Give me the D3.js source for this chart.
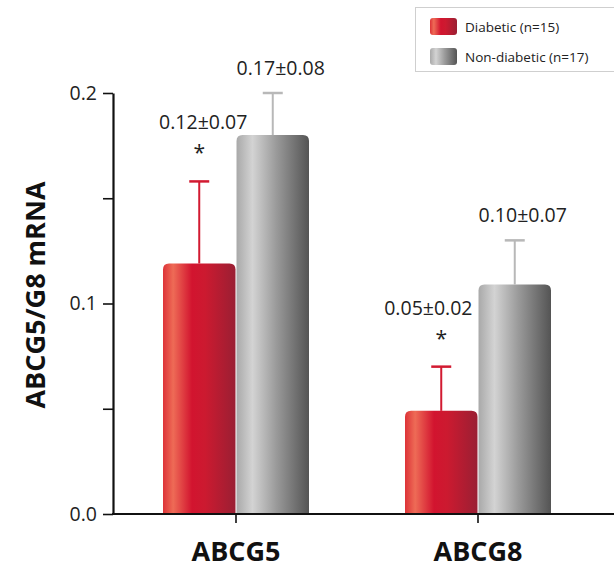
<!DOCTYPE html>
<html>
<head>
<meta charset="utf-8">
<script src="https://cdn.jsdelivr.net/npm/d3@7"></script>
<style>
  body { margin: 0; background: #fff; }
  text { font-family: "Open Sans", "Noto Sans", sans-serif; }
</style>
</head>
<body>
<script>
// data
var genes = ["ABCG5", "ABCG8"];
var groups = ["Diabetic", "Non-diabetic"];
var legendLabels = ["Diabetic (n=15)", "Non-diabetic (n=17)"];
var means = [[0.119, 0.180], [0.049, 0.109]];   // [gene][group]
var sds = [[0.039, 0.020], [0.021, 0.021]];     // drawn error (upper only)
var labels = [["0.12\u00b10.07", "0.17\u00b10.08"], ["0.05\u00b10.02", "0.10\u00b10.07"]];
var signif = [[true, false], [true, false]];
var yTicks = [0, 0.05, 0.1, 0.15, 0.2];
var yLabelTicks = [0, 0.1, 0.2];

var width = 614, height = 568;
var svg = d3.select("body").append("svg")
    .attr("width", width)
    .attr("height", height);

var defs = svg.append("defs");
function gradient(id, stops) {
    var g = defs.append("linearGradient").attr("id", id)
        .attr("x1", "0%").attr("x2", "100%").attr("y1", "0%").attr("y2", "0%");
    stops.forEach(function (s) {
        g.append("stop").attr("offset", s[0]).attr("stop-color", s[1]);
    });
}
gradient("gRed", [["0%", "#dd3338"], ["14%", "#ee6b56"], ["40%", "#d2142f"], ["58%", "#cc1a30"], ["100%", "#9a1f33"]]);
gradient("gGray", [["0%", "#a9a9a9"], ["22%", "#d3d3d3"], ["55%", "#9a9a9a"], ["100%", "#545454"]]);
var fills = ["url(#gRed)", "url(#gGray)"];
var errColors = ["#d21a31", "#b8b8b8"];

var y = d3.scaleLinear().domain([0, 0.2]).range([514, 93]);
var x0 = d3.scaleBand().domain(genes).range([115, 599]);
var x1 = d3.scaleBand().domain(groups).range([-73, 73]).paddingInner(0.014);

// y axis
var yAxis = d3.axisLeft(y)
    .tickValues(yTicks)
    .tickSize(10)
    .tickSizeOuter(0)
    .tickPadding(6)
    .tickFormat(function (d) { return yLabelTicks.indexOf(d) >= 0 ? d3.format(".1f")(d) : ""; });
var gy = svg.append("g").attr("transform", "translate(113,0)").call(yAxis);
gy.select(".domain").attr("stroke", "#111").attr("stroke-width", 2.2);
gy.selectAll(".tick line").attr("stroke", "#111").attr("stroke-width", 1.6);
gy.selectAll(".tick text").attr("font-size", 19.5).attr("fill", "#222")
    .style("font-family", "'Open Sans', sans-serif");

// bars
function barPath(xl, w, top, bottom, r) {
    return "M" + xl + "," + bottom +
        "V" + (top + r) +
        "Q" + xl + "," + top + " " + (xl + r) + "," + top +
        "H" + (xl + w - r) +
        "Q" + (xl + w) + "," + top + " " + (xl + w) + "," + (top + r) +
        "V" + bottom + "Z";
}

var rows = [];
genes.forEach(function (g, gi) {
    groups.forEach(function (s, si) {
        rows.push({gene: g, group: s, gi: gi, si: si,
            mean: means[gi][si], sd: sds[gi][si], label: labels[gi][si], star: signif[gi][si]});
    });
});

var bars = svg.append("g").selectAll("g").data(rows).enter().append("g");

bars.append("path")
    .attr("d", function (d) {
        var xl = x0(d.gene) + x0.bandwidth() / 2 + x1(d.group);
        return barPath(xl, x1.bandwidth(), y(d.mean), y(0), 6);
    })
    .attr("fill", function (d) { return fills[d.si]; });

function cx(d) { return x0(d.gene) + x0.bandwidth() / 2 + x1(d.group) + x1.bandwidth() / 2; }

bars.append("line")
    .attr("x1", cx).attr("x2", cx)
    .attr("y1", function (d) { return y(d.mean); })
    .attr("y2", function (d) { return y(d.mean + d.sd); })
    .attr("stroke", function (d) { return errColors[d.si]; })
    .attr("stroke-width", 2);
bars.append("line")
    .attr("x1", function (d) { return cx(d) - 10; })
    .attr("x2", function (d) { return cx(d) + 10; })
    .attr("y1", function (d) { return y(d.mean + d.sd); })
    .attr("y2", function (d) { return y(d.mean + d.sd); })
    .attr("stroke", function (d) { return errColors[d.si]; })
    .attr("stroke-width", 2.5);

// value labels
bars.append("text")
    .attr("x", function (d) { return cx(d) + (d.si === 1 ? 8 : 4); })
    .attr("y", function (d) { return y(d.mean + d.sd) - (d.star ? 52 : 18); })
    .attr("text-anchor", "middle")
    .attr("font-size", 19.5)
    .attr("fill", "#222")
    .text(function (d) { return d.label; })
    .each(function (d) {
        // keep label clear of the neighbouring taller bar
        if (d.si === 0) {
            var other = rows.find(function (r) { return r.gi === d.gi && r.si === 1; });
            var baseline = +d3.select(this).attr("y");
            var box = this.getBBox();
            var limit = x0(d.gene) + x0.bandwidth() / 2 + x1(other.group) - 6;
            if (y(other.mean) < baseline && box.x + box.width > limit) {
                d3.select(this).attr("x", +d3.select(this).attr("x") - (box.x + box.width - limit));
            }
        }
    });

bars.filter(function (d) { return d.star; }).append("text")
    .attr("x", cx)
    .attr("y", function (d) { return y(d.mean + d.sd) - 21; })
    .attr("text-anchor", "middle")
    .attr("font-size", 21)
    .attr("fill", "#222")
    .text("*");

// x axis
var gx = svg.append("g");
gx.append("line")
    .attr("x1", 112).attr("x2", width)
    .attr("y1", y(0)).attr("y2", y(0))
    .attr("stroke", "#111").attr("stroke-width", 2.2);
gx.selectAll(".xt").data(genes).enter().append("line")
    .attr("x1", function (d) { return x0(d) + x0.bandwidth() / 2; })
    .attr("x2", function (d) { return x0(d) + x0.bandwidth() / 2; })
    .attr("y1", y(0)).attr("y2", y(0) + 9)
    .attr("stroke", "#111").attr("stroke-width", 1.6);
gx.selectAll(".xl").data(genes).enter().append("text")
    .attr("x", function (d) { return x0(d) + x0.bandwidth() / 2; })
    .attr("y", 561)
    .attr("text-anchor", "middle")
    .attr("font-size", 27)
    .attr("font-weight", "bold")
    .attr("fill", "#111")
    .text(function (d) { return d; });

// y title
svg.append("text")
    .attr("transform", "translate(45,295) rotate(-90)")
    .attr("text-anchor", "middle")
    .attr("font-size", 27)
    .attr("font-weight", "bold")
    .attr("fill", "#111")
    .text("ABCG5/G8 mRNA");

// legend
var lg = svg.append("g");
lg.append("rect")
    .attr("x", 415.5).attr("y", 7.5).attr("width", 210).attr("height", 64)
    .attr("fill", "#fff").attr("stroke", "#cfcfcf");
var li = lg.selectAll(".li").data(legendLabels).enter().append("g")
    .attr("transform", function (d, i) { return "translate(430," + (18 + i * 30) + ")"; });
li.append("rect")
    .attr("width", 27).attr("height", 17).attr("rx", 3)
    .attr("fill", function (d, i) { return fills[i]; });
li.append("text")
    .attr("x", 35).attr("y", 13.5)
    .attr("font-size", 13.5)
    .attr("fill", "#222")
    .text(function (d) { return d; });
</script>
</body>
</html>
